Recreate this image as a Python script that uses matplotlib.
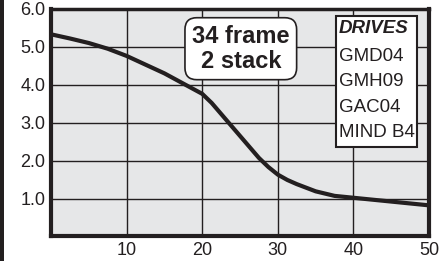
import matplotlib.pyplot as plt
from matplotlib.patches import Rectangle

# values
speed = [0, 2.5, 5, 7.5, 10, 12.5, 15, 17.5, 20, 21.25, 22.5, 23.75, 25, 26.25, 27.5, 28.75, 30,
         31.25, 32.5, 35, 37.5, 40, 45, 50]
torque = [5.33, 5.22, 5.1, 4.95, 4.76, 4.53, 4.3, 4.03, 3.76, 3.52, 3.23, 2.94, 2.65, 2.36, 2.07,
          1.83, 1.63, 1.49, 1.38, 1.19, 1.07, 1.02, 0.92, 0.82]
x_ticks = [10, 20, 30, 40, 50]
y_ticks = [1, 2, 3, 4, 5, 6]
title_text = "34 frame\n2 stack"
drives = ["GMD04", "GMH09", "GAC04", "MIND B4"]

plt.rcParams['font.family'] = ["Liberation Sans", "DejaVu Sans"]

fig = plt.figure(figsize=(4.47, 2.61), dpi=100)
ax = fig.add_axes([0.114, 0.094, 0.846, 0.872])
ax.set_facecolor("#e6e7e8")

ax.plot(speed, torque, color="#231f20", lw=3, solid_capstyle="butt", zorder=3)

ax.set_xlim(0, 50)
ax.set_ylim(0, 6)
ax.set_xticks(x_ticks)
ax.set_yticks(y_ticks)
ax.set_yticklabels([f"{v:.1f}" for v in y_ticks])
ax.tick_params(length=0, labelsize=13, pad=4, labelcolor="#231f20")
ax.grid(True, color="#231f20", lw=1)
ax.set_axisbelow(True)
for s in ax.spines.values():
    s.set_linewidth(3)
    s.set_color("#231f20")
ax.spines["top"].set_linewidth(2.5)

ax.text(25.1, 4.95, title_text, ha="center", va="center", fontsize=17,
        fontweight="bold", linespacing=1.1, zorder=5, color="#231f20",
        bbox=dict(boxstyle="round,pad=0.3,rounding_size=0.5", fc="white", ec="#231f20", lw=1.2))

# drives list box
ax.add_patch(Rectangle((37.7, 2.37), 10.7, 3.45, fc="white", ec="#231f20", lw=1.5, zorder=4))
ax.text(38.1, 5.48, "DRIVES", fontsize=13.5, fontweight="bold", style="italic",
        va="center", zorder=5, color="#231f20")
for i, d in enumerate(drives):
    ax.text(38.1, 4.75 - i * 0.67, d, fontsize=13.5, va="center", zorder=5, color="#231f20")

# black bar on the left edge
fig.patches.append(Rectangle((0, 0), 4 / 447, 1, transform=fig.transFigure, fc="#231f20", ec="none"))

fig.savefig("out.png", dpi=100)
